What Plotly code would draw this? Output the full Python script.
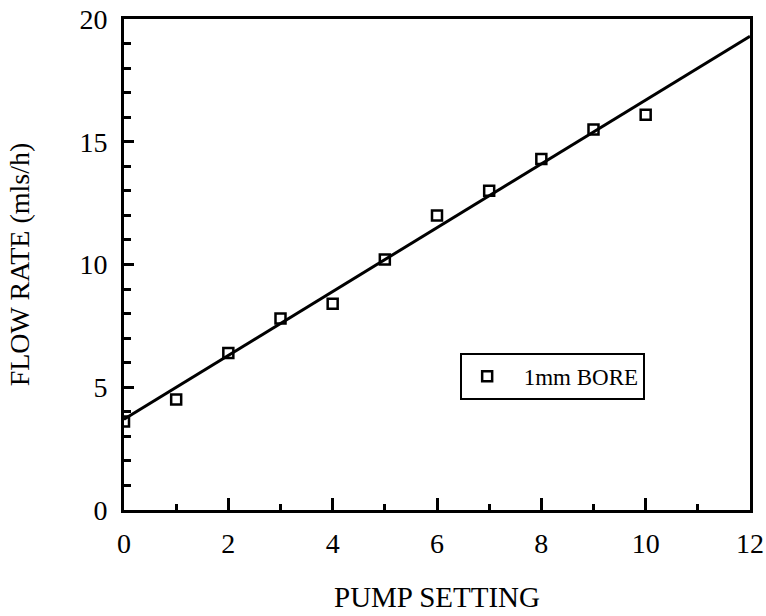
import plotly.graph_objects as go

# Measured flow rate for each pump setting (1 mm bore tubing)
pump_setting = [0, 1, 2, 3, 4, 5, 6, 7, 8, 9, 10]
flow_rate = [3.6, 4.5, 6.4, 7.8, 8.4, 10.2, 12.0, 13.0, 14.3, 15.5, 16.1]

# Straight-line fit through the measurements, drawn across the full axis
fit_x = [0, 12]
fit_y = [3.7, 19.3]

FONT = "Liberation Serif"

fig = go.Figure()
fig.add_trace(go.Scatter(
    x=fit_x, y=fit_y, mode="lines",
    line=dict(color="black", width=3),
    showlegend=False, hoverinfo="skip",
))
fig.add_trace(go.Scatter(
    x=pump_setting, y=flow_rate, mode="markers",
    name="  1mm BORE",
    marker=dict(symbol="square-open", size=10, color="black",
                line=dict(color="black", width=2.5)),
))

axis_common = dict(
    showline=True, linecolor="black", linewidth=3, mirror=True,
    showgrid=False, zeroline=False, automargin=False,
    ticks="inside", tickcolor="black", tickwidth=2.5,
    tickfont=dict(family=FONT, size=28, color="black"),
)

fig.update_xaxes(
    range=[0, 12], tickmode="linear", tick0=0, dtick=2, ticklen=12,
    minor=dict(ticks="inside", dtick=1, ticklen=6, tickwidth=2.5, tickcolor="black"),
    ticklabelstandoff=6,
    title=dict(text="PUMP SETTING", font=dict(family=FONT, size=29, color="black"),
               standoff=30),
    **axis_common,
)
fig.update_yaxes(
    range=[0, 20], tickmode="linear", tick0=0, dtick=5, ticklen=10,
    minor=dict(ticks="inside", dtick=1, ticklen=7, tickwidth=2.5, tickcolor="black"),
    ticklabelstandoff=8,
    title=dict(text="FLOW RATE (mls/h)", font=dict(family=FONT, size=28, color="black"),
               standoff=42),
    **axis_common,
)

fig.update_layout(
    width=766, height=616,
    margin=dict(l=124, r=16, t=19, b=106),
    paper_bgcolor="white", plot_bgcolor="white",
    font=dict(family=FONT, color="black"),
    legend=dict(
        x=0.537, y=0.32, xanchor="left", yanchor="top",
        bgcolor="white", bordercolor="black", borderwidth=2,
        font=dict(family=FONT, size=23, color="black"),
        itemwidth=40,
    ),
)

fig.write_html("out.html")
